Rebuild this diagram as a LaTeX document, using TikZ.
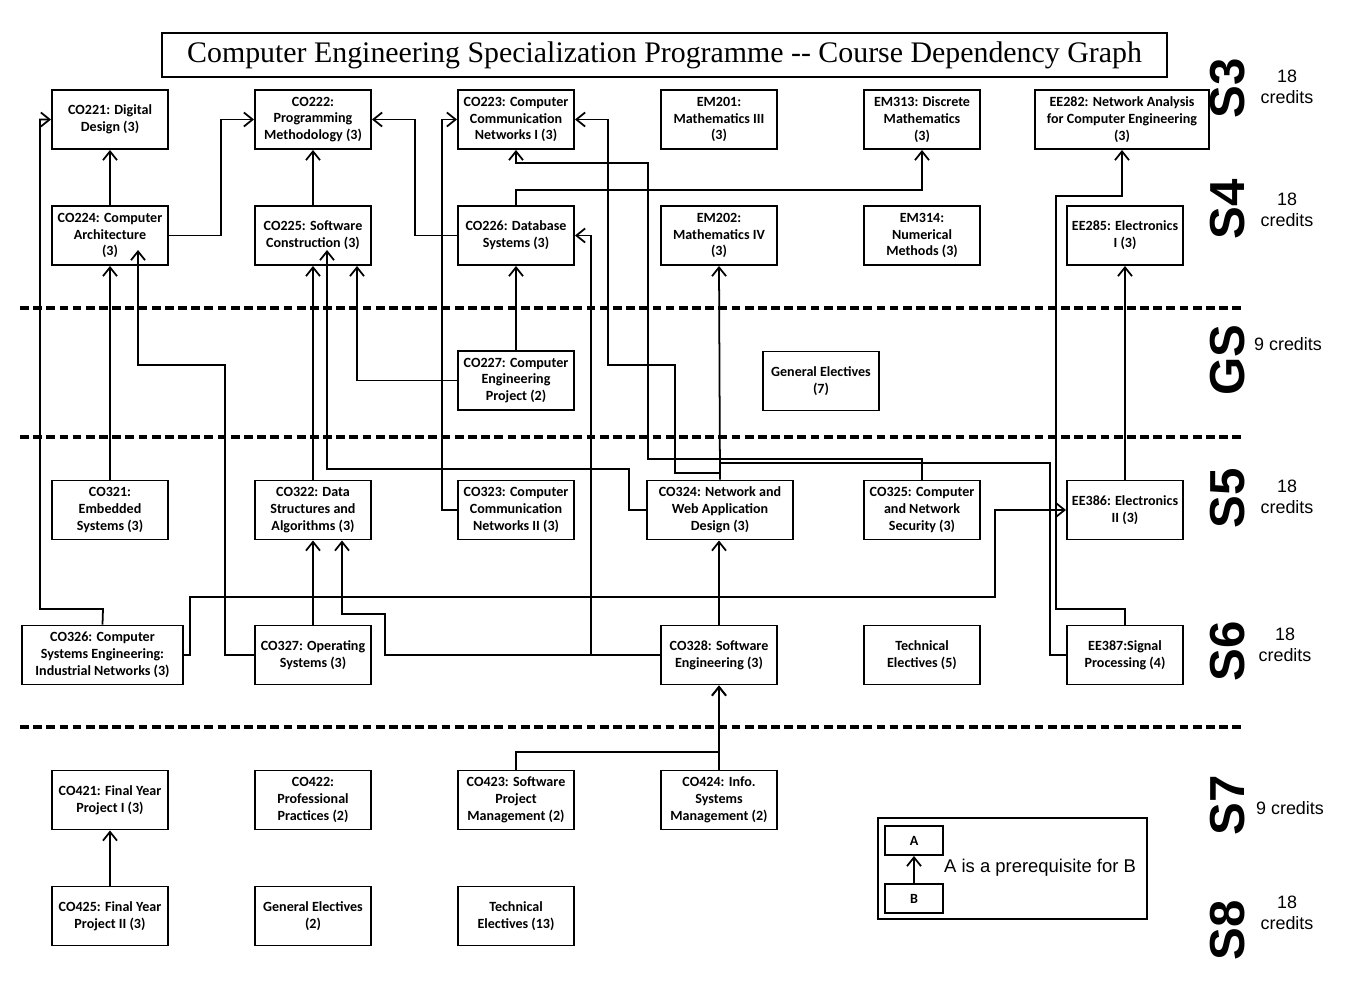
\documentclass[tikz,border=0pt]{standalone}
\usepackage{fontspec}
\setmainfont{Carlito}
\newfontfamily\titlefont{Liberation Serif}
\newfontfamily\arialf{Liberation Sans}
\usetikzlibrary{arrows.meta,calc}
\newlength\pu \setlength\pu{0.02cm}
\begin{document}
\begin{tikzpicture}[x=0.02cm,y=-0.02cm,
  box/.style={draw,line width=1.1pt,minimum width=116\pu,minimum height=59\pu,align=center,inner sep=1pt,
    font=\bfseries\fontsize{8}{9.6}\selectfont},
  arr/.style={line width=1pt,-{Straight Barb[length=5pt,width=8pt]}},
  ln/.style={line width=1pt},
  semline/.style={line width=2pt,dash pattern=on 5pt off 2.5pt},
  sem/.style={rotate=90,font=\arialf\bfseries\fontsize{28}{28}\selectfont},
  cred/.style={align=center,font=\arialf\fontsize{10.2}{12}\selectfont}]
\useasboundingbox (0,0) rectangle (1361,1000);
\newcommand\bx[4][116]{\node[box,minimum width=#1\pu] (#2) at (#3) {#4};}
% title
\node[draw,line width=1.1pt,minimum width=1005\pu,minimum height=44\pu,font=\titlefont\fontsize{17}{20}\selectfont] (title) at (664.5,55) {Computer Engineering Specialization Programme -- Course Dependency Graph};
% dashed lines
\draw[semline] (20,308) -- (1245,308);
\draw[semline] (20,437) -- (1245,437);
\draw[semline] (20,727) -- (1245,727);
% S3
\bx{co221}{110,119.5}{CO221: Digital\\Design (3)}
\bx{co222}{313,119.5}{CO222:\\Programming\\Methodology (3)}
\bx{co223}{516,119.5}{CO223: Computer\\Communication\\Networks I (3)}
\bx{em201}{719,119.5}{EM201:\\Mathematics III\\(3)}
\bx{em313}{922,119.5}{EM313: Discrete\\Mathematics\\(3)}
\bx[174]{ee282}{1122,119.5}{EE282: Network Analysis\\for Computer Engineering\\(3)}
% S4
\bx{co224}{110,235.5}{CO224: Computer\\Architecture\\(3)}
\bx{co225}{313,235.5}{CO225: Software\\Construction (3)}
\bx{co226}{516,235.5}{CO226: Database\\Systems (3)}
\bx{em202}{719,235.5}{EM202:\\Mathematics IV\\(3)}
\bx{em314}{922,235.5}{EM314:\\Numerical\\Methods (3)}
\bx{ee285}{1125,235.5}{EE285: Electronics\\I (3)}
% GS
\bx{co227}{516,380.5}{CO227: Computer\\Engineering\\Project (2)}
\bx{ge7}{821,381}{General Electives\\(7)}
% S5
\bx{co321}{110,510}{CO321:\\Embedded\\Systems (3)}
\bx{co322}{313,510}{CO322: Data\\Structures and\\Algorithms (3)}
\bx{co323}{516,510}{CO323: Computer\\Communication\\Networks II (3)}
\bx[146]{co324}{720,510}{CO324: Network and\\Web Application\\Design (3)}
\bx{co325}{922,510}{CO325: Computer\\and Network\\Security (3)}
\bx{ee386}{1125,510}{EE386: Electronics\\II (3)}
% S6
\bx[161]{co326}{102.5,655}{CO326: Computer\\Systems Engineering:\\Industrial Networks (3)}
\bx{co327}{313,655}{CO327: Operating\\Systems (3)}
\bx{co328}{719,655}{CO328: Software\\Engineering (3)}
\bx{te5}{922,655}{Technical\\Electives (5)}
\bx{ee387}{1125,655}{EE387:Signal\\Processing (4)}
% S7
\bx{co421}{110,800}{CO421: Final Year\\Project I (3)}
\bx{co422}{313,800}{CO422:\\Professional\\Practices (2)}
\bx{co423}{516,800}{CO423: Software\\Project\\Management (2)}
\bx{co424}{719,800}{CO424: Info.\\Systems\\Management (2)}
% S8
\bx{co425}{110,916}{CO425: Final Year\\Project II (3)}
\bx{ge2}{313,916}{General Electives\\(2)}
\bx{te13}{516,916}{Technical\\Electives (13)}
% connectors
\draw[arr] (co224.north) -- (co221.south);
\draw[arr] (co224.east) -- (221,235.5) |- (co222.west);
\draw[arr] (co225.north) -- (co222.south);
\draw[arr] (co226.west) -- (415,235.5) |- (co222.east);
\draw[arr] (co226.north) -- (516,190) -| (em313.south);
\draw[arr] (co227.north) -- (co226.south);
\draw[arr] (co227.west) -- (357,380.5) -- ($(co225.south)+(44,0)$);
\draw[arr] (co321.north) -- (co224.south);
\draw[arr] (co322.north) -- (co225.south);
\draw[arr] (co323.west) -- (442,510) |- (co223.west);
\draw[arr] (co324.west) -- (629,510) -- (629,469) -- (327,469) -- (327,250);
\draw[arr] (co324.north) -- (em202.south);
\draw[arr] (720,473) -- (675,473) -- (675,365) -- (608,365) |- (co223.east);
\draw[arr] (co325.north) -- (922,459) -- (648,459) -- (648,163) -| (co223.south);
\draw[ln] (ee387.west) -- (1050,655) -- (1050,463) -- (720,463);
\draw[arr] (ee387.north) -- (1125,609) -- (1056,609) -- (1056,196) -| (ee282.south);
\draw[arr] (ee386.north) -- (ee285.south);
\draw[arr] (co326.east) -- (190,655) -- (190,597) -- (995,597) |- (ee386.west);
\draw[arr] (co326.north) -- (103,609) -- (40,609) |- (co221.west);
\draw[arr] (co327.west) -- (225,655) -- (225,365) -- (138,365) -- (138,250);
\draw[arr] (co327.north) -- (co322.south);
\draw[arr] (co328.west) -- (385,655) -- (385,614) -- (342,614) -- ($(co322.south)+(29,0)$);
\draw[arr] (591,655) |- (co226.east);
\draw[arr] (co328.north) -- (co324.south -| co328.north);
\draw[arr] (co423.north) -- (516,752) -- (719,752) -- (co328.south);
\draw[arr] (co424.north) -- (co328.south);
\draw[arr] (co425.north) -- (co421.south);
% legend
\node[draw,line width=1.1pt,minimum width=269\pu,minimum height=101\pu] (leg) at (1012.5,868.5) {};
\node[box,minimum width=58\pu,minimum height=29\pu] (la) at (914,840.5) {A};
\node[box,minimum width=58\pu,minimum height=29\pu] (lb) at (914,898.5) {B};
\draw[arr] (lb.north) -- (la.south);
\node[font=\arialf\fontsize{10.5}{12}\selectfont] (legt) at (1040,868) {A is a prerequisite for B};
% semesters
\node[sem] (s3) at (1228,88) {S3};
\node[sem] (s4) at (1228,209) {S4};
\node[sem] (gs) at (1228,360) {GS};
\node[sem] (s5) at (1228,498) {S5};
\node[sem] (s6) at (1228,651) {S6};
\node[sem] (s7) at (1228,805) {S7};
\node[sem] (s8) at (1228,930) {S8};
\node[cred] (c3) at (1287,87) {18\\credits};
\node[cred] (c4) at (1287,210) {18\\credits};
\node[cred] (cg) at (1288,344) {9 credits};
\node[cred] (c5) at (1287,497) {18\\credits};
\node[cred] (c6) at (1285,645) {18\\credits};
\node[cred] (c7) at (1290,808) {9 credits};
\node[cred] (c8) at (1287,913) {18\\credits};
\end{tikzpicture}
\end{document}
